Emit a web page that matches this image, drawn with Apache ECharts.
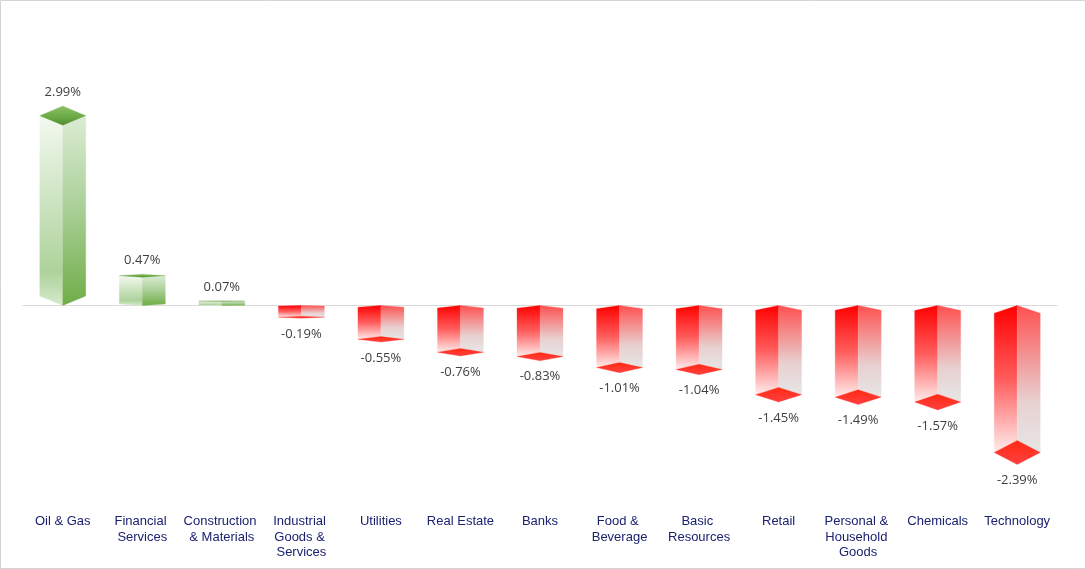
<!DOCTYPE html>
<html>
<head>
<meta charset="utf-8">
<style>html,body{margin:0;padding:0;background:#fff}#c{width:1086px;height:569px}</style>
<script src="https://cdn.jsdelivr.net/npm/echarts@6/dist/echarts.min.js"></script>
</head>
<body>
<div id="c"></div>
<script>
const categories = ['Oil & Gas','Financial Services','Construction & Materials','Industrial Goods & Services','Utilities','Real Estate','Banks','Food & Beverage','Basic Resources','Retail','Personal & Household Goods','Chemicals','Technology'];
const values = [2.99,0.47,0.07,-0.19,-0.55,-0.76,-0.83,-1.01,-1.04,-1.45,-1.49,-1.57,-2.39];

const grad = (stops) => ({type:'linear',x:0,y:0,x2:0,y2:1,colorStops:stops.map(s=>({offset:s[0],color:s[1]}))});
const greenLeft = grad([[0,'#f3f9f0'],[0.45,'#cde4c2'],[0.82,'#add29b'],[1,'#d6e9cc']]);
const greenRight = grad([[0,'#dcecd4'],[0.5,'#a8cf95'],[1,'#70ad47']]);
const greenTop = grad([[0,'#8cc06a'],[0.6,'#6aa943'],[1,'#4f8a2c']]);
const redLeft = grad([[0,'#ff0000'],[0.5,'#ff5c5c'],[1,'#ffecec']]);
const redRight = grad([[0,'#ff5050'],[0.65,'#e8d0d0'],[1,'#e7e6e6']]);
const redBottom = grad([[0,'#ff2a14'],[1,'#ff4040']]);

function renderBar(params, api) {
  const i = api.value(0), v = api.value(1);
  const base = api.coord([i, 0]);
  const end = api.coord([i, v]);
  const cx = base[0], w = 23;
  const a = Math.abs(v);
  const l = cx - w, r = cx + w;
  const shape = (pts, fill) => ({type:'polygon',shape:{points:pts},style:{fill:fill,stroke:fill,lineWidth:0.3}});
  const children = [];
  let labelY;
  if (v >= 0) {
    const yc = end[1] - 2 * a;      // centre of the top face
    const h = 3.2 * a;              // half height of the top face
    const front = base[1];
    children.push(shape([[l,yc],[cx,yc+h],[cx,front],[l,front-h]], greenLeft));
    children.push(shape([[cx,yc+h],[r,yc],[r,front-h],[cx,front]], greenRight));
    children.push(shape([[l,yc],[cx,yc-h],[r,yc],[cx,yc+h]], greenTop));
    labelY = yc - h - 14;
  } else {
    const yc = end[1];              // centre of the bottom face
    const h = 5 * a;                // half height of the bottom face
    const back = base[1];
    const topDrop = 3.2 * a;
    children.push(shape([[l,back+topDrop],[cx,back],[cx,yc-h],[l,yc]], redLeft));
    children.push(shape([[cx,back],[r,back+topDrop],[r,yc],[cx,yc-h]], redRight));
    children.push(shape([[l,yc],[cx,yc-h],[r,yc],[cx,yc+h]], redBottom));
    labelY = yc + h + 16;
  }
  children.push({type:'text',style:{x:cx,y:labelY,text:v.toFixed(2)+'%',fill:'#404040',
    font:'13px "Open Sans", sans-serif',align:'center',verticalAlign:'middle'}});
  return {type:'group',children};
}

const chart = echarts.init(document.getElementById('c'), null, {renderer:'canvas'});
chart.setOption({
  animation:false,
  backgroundColor:'#fff',
  graphic:[{type:'rect',silent:true,shape:{x:0.5,y:0.5,width:1085,height:568},style:{fill:'none',stroke:'#d4d4d4',lineWidth:1},z:100}],
  grid:{left:23,width:1034,top:59.5,height:430.5},
  xAxis:[
    {type:'category',data:categories,position:'bottom',
     axisLine:{show:false,onZero:false},axisTick:{show:false},splitLine:{show:false},
     axisLabel:{interval:0,margin:24,width:78,overflow:'break',lineHeight:15.5,
       color:'#1c2270',fontFamily:'"Liberation Sans", Arial, sans-serif',fontSize:13}},
    {type:'category',data:categories,
     axisLine:{show:true,onZero:true,lineStyle:{color:'#d9d9d9',width:1}},axisTick:{show:false},axisLabel:{show:false},splitLine:{show:false}}
  ],
  yAxis:{type:'value',min:-3,max:4,show:false,splitLine:{show:false}},
  series:[{type:'custom',xAxisIndex:0,renderItem:renderBar,clip:false,
    encode:{x:0,y:1},
    data:values.map((v,i)=>[i,v])}]
});
</script>
</body>
</html>
